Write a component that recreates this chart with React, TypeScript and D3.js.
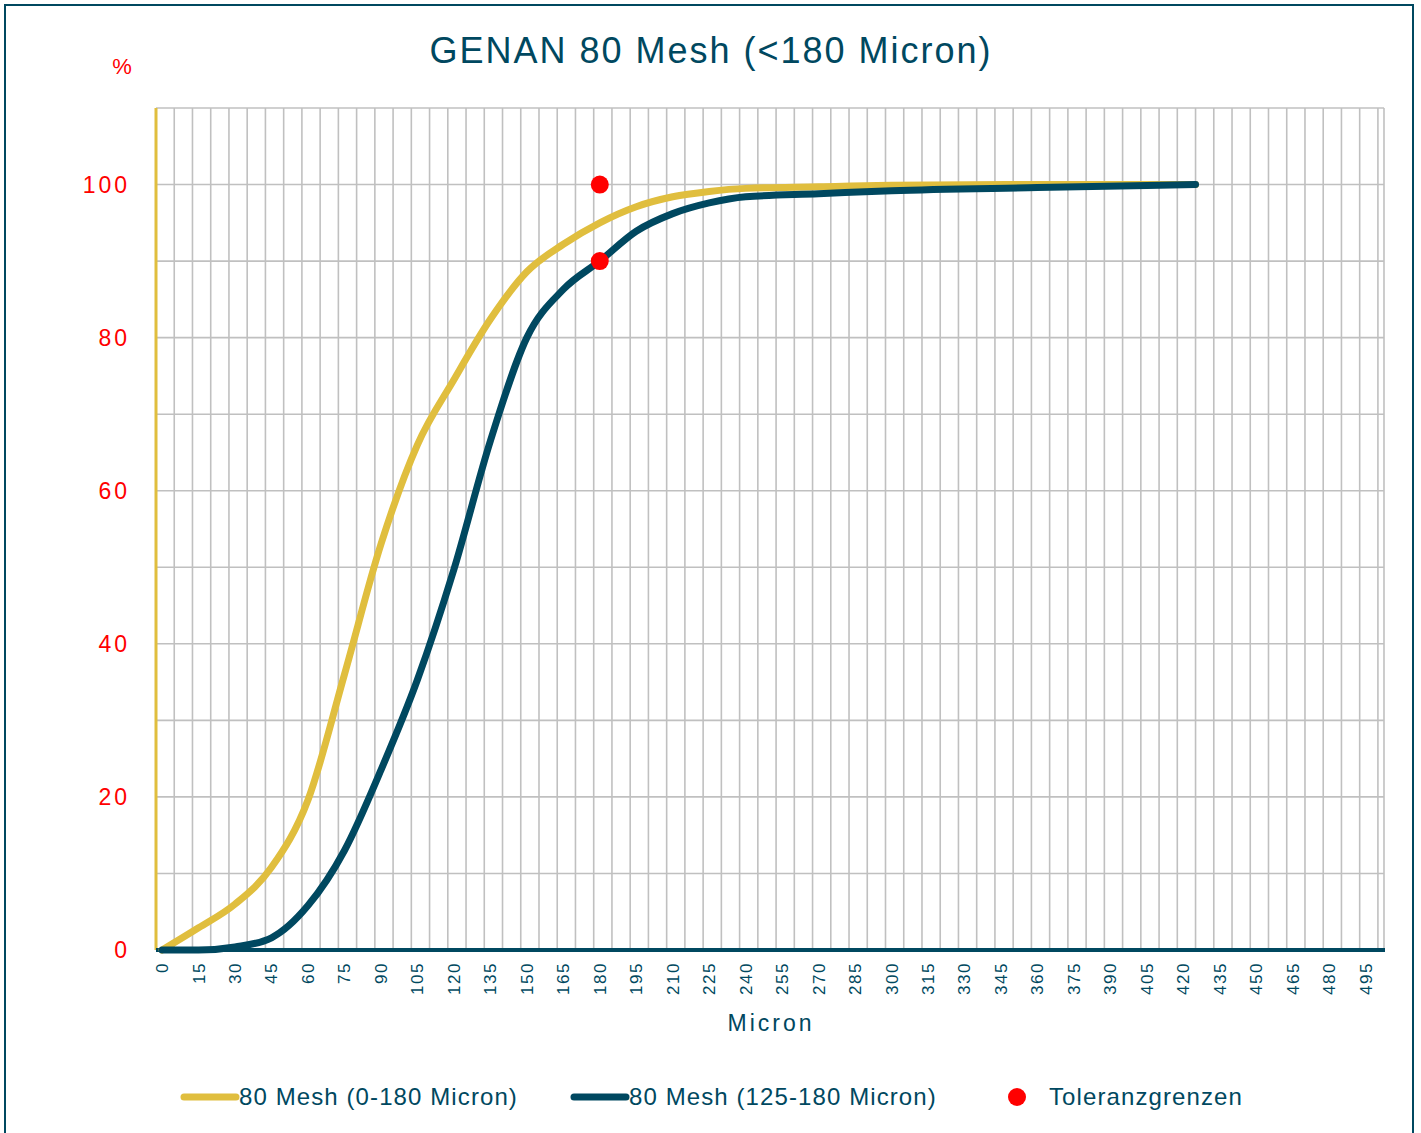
import React from "react";
import * as d3 from "d3";

const micron = [0, 15, 30, 45, 60, 75, 90, 105, 120, 135, 150, 165, 180, 195, 210, 225, 240, 270, 300, 360, 425];
const mesh0to180 = [0, 2.9, 6, 10.8, 19.6, 36, 53, 66, 74.5, 82.4, 88.6, 92.2, 95, 97.1, 98.4, 99.1, 99.5, 99.7, 99.9, 100, 100];
const mesh125to180 = [0, 0, 0.4, 1.6, 5.8, 13, 23.5, 35.3, 49.7, 66.5, 80, 86.3, 90, 93.9, 96.2, 97.6, 98.4, 98.8, 99.2, 99.6, 100];
const tolerance = [[180, 100], [180, 90]];
const xTicks = d3.range(0, 500, 15);
const yTicks = [0, 20, 40, 60, 80, 100];

const W = 1421, H = 1133;
const left = 156, right = 1384, top = 108, bottom = 950;
const yellow = "#E0BE3E", teal = "#004860";
const font = "'Liberation Sans', Arial, sans-serif";

export default function App() {
  const x = d3.scaleLinear().domain([-2.5, 502.5]).range([left, right]);
  const y = d3.scaleLinear().domain([0, 110]).range([bottom, top]);
  const line = d3.line<[number, number]>().x(d => x(d[0])).y(d => y(d[1])).curve(d3.curveMonotoneX);
  const s1 = micron.map((m, i) => [m, mesh0to180[i]] as [number, number]);
  const s2 = micron.map((m, i) => [m, mesh125to180[i]] as [number, number]);
  const vGrid = d3.range(5, 501, 7.5);
  const hGrid = d3.range(10, 111, 10);

  return (
    <svg width={W} height={H} style={{ position: "absolute", left: 0, top: 0 }} fontFamily={font}>
      <rect x={0} y={0} width={W} height={H} fill="#fff" />
      <rect x={5} y={5} width={1408} height={1140} fill="none" stroke={teal} strokeWidth={2} />
      <text x={711} y={63} textAnchor="middle" fontSize={36} fill={teal} letterSpacing={2}>GENAN 80 Mesh (&lt;180 Micron)</text>
      <text x={122} y={74} textAnchor="middle" fontSize={22} fill="#FF0000">%</text>
      {vGrid.map(v => <line key={"v" + v} x1={x(v)} x2={x(v)} y1={top} y2={bottom} stroke="#C0C0C0" strokeWidth={1.6} />)}
      {hGrid.map(v => <line key={"h" + v} x1={left} x2={right} y1={y(v)} y2={y(v)} stroke="#C0C0C0" strokeWidth={1.6} />)}
      <line x1={right} x2={right} y1={top} y2={bottom} stroke="#C0C0C0" strokeWidth={1.6} />
      <line x1={left} x2={left} y1={top} y2={bottom} stroke={yellow} strokeWidth={3} />
      <line x1={left} x2={right + 1} y1={bottom} y2={bottom} stroke={teal} strokeWidth={4} />
      {yTicks.map(t => (
        <text key={"yt" + t} x={130} y={y(t)} dy="0.35em" textAnchor="end" fontSize={23} fill="#FF0000" letterSpacing={3}>{t}</text>
      ))}
      {xTicks.map(t => (
        <text key={"xt" + t} transform={`translate(${x(t)},${962}) rotate(-90)`} dy="0.35em" textAnchor="end" fontSize={17} fill={teal} letterSpacing={1.5}>{t}</text>
      ))}
      <text x={771} y={1031} textAnchor="middle" fontSize={23} fill={teal} letterSpacing={3}>Micron</text>
      <path d={line(s1) ?? ""} fill="none" stroke={yellow} strokeWidth={7} strokeLinecap="round" />
      <path d={line(s2) ?? ""} fill="none" stroke={teal} strokeWidth={7} strokeLinecap="round" />
      {tolerance.map((p, i) => <circle key={"t" + i} cx={x(p[0])} cy={y(p[1])} r={9} fill="#FF0000" />)}
      <g fontSize={24} fill={teal} letterSpacing={1.1}>
        <line x1={184} x2={236} y1={1097} y2={1097} stroke={yellow} strokeWidth={7} strokeLinecap="round" />
        <text x={239} y={1105}>80 Mesh (0-180 Micron)</text>
        <line x1={574} x2={626} y1={1097} y2={1097} stroke={teal} strokeWidth={7} strokeLinecap="round" />
        <text x={629} y={1105}>80 Mesh (125-180 Micron)</text>
        <circle cx={1017} cy={1097} r={9} fill="#FF0000" />
        <text x={1049} y={1105}>Toleranzgrenzen</text>
      </g>
    </svg>
  );
}
